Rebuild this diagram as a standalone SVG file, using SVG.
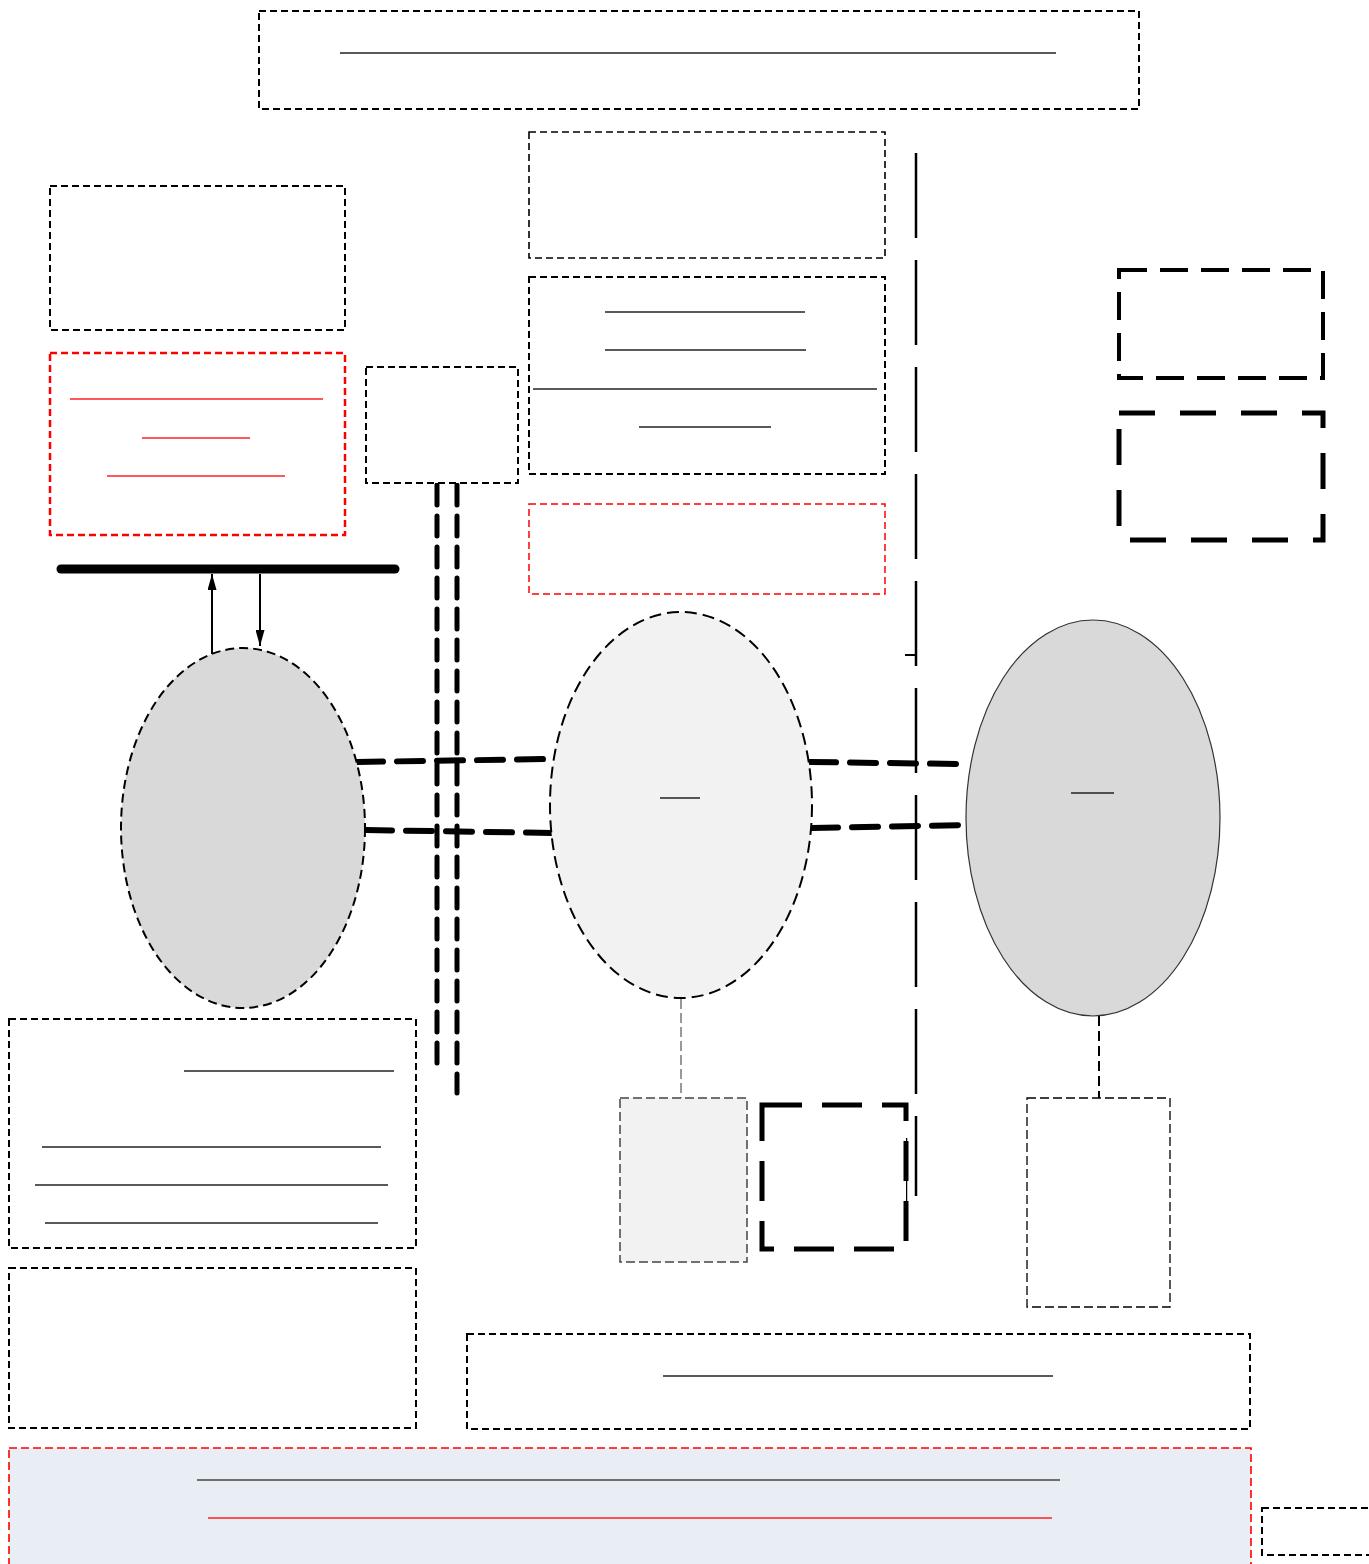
<svg xmlns="http://www.w3.org/2000/svg" width="1369" height="1564" viewBox="0 0 1369 1564">
<defs>
<style>
.bx{fill:#fff;stroke:#000;stroke-width:2;stroke-dasharray:7 4}
.bxr{fill:#fff;stroke:#ff0000;stroke-width:2;stroke-dasharray:7 4}
.ul{stroke:#222;stroke-width:1.4}
.ulr{stroke:#ff2020;stroke-width:1.4}
.thk{fill:none;stroke:#000;stroke-width:6;stroke-dasharray:26 14;stroke-linecap:round}
</style>
<marker id="ah" viewBox="0 0 10 10" refX="10" refY="5" markerWidth="16" markerHeight="9" orient="auto" markerUnits="userSpaceOnUse" preserveAspectRatio="none">
<path d="M0,0 L10,5 L0,10 Z" fill="#000"/>
</marker>
</defs>
<rect width="1369" height="1564" fill="#fff"/>

<g id="connectors">
<line x1="437" y1="485" x2="437" y2="1066" stroke="#000" stroke-width="5" stroke-dasharray="20 11" stroke-linecap="round"/>
<line x1="457" y1="485" x2="457" y2="1093" stroke="#000" stroke-width="5" stroke-dasharray="20 11" stroke-linecap="round"/>
<path class="thk" d="M357,762 L549,759"/>
<path class="thk" d="M366,830 L553,833"/>
<path class="thk" d="M810,762 L960,764"/>
<path class="thk" d="M812,828 L965,825"/>
<line x1="916" y1="153" x2="916" y2="1196" stroke="#000" stroke-width="2.5" stroke-dasharray="85 22"/>
<line x1="905" y1="655" x2="916" y2="655" stroke="#000" stroke-width="2"/>
<line x1="906" y1="1138" x2="906" y2="1210" stroke="#000" stroke-width="2.5"/>
<line x1="61" y1="569" x2="395" y2="569" stroke="#000" stroke-width="9" stroke-linecap="round"/>
<line x1="212" y1="654" x2="212" y2="574" stroke="#000" stroke-width="2" marker-end="url(#ah)"/>
<line x1="260" y1="574" x2="260" y2="646" stroke="#000" stroke-width="2" marker-end="url(#ah)"/>
<line x1="681" y1="999" x2="681" y2="1098" stroke="#555" stroke-width="1.2" stroke-dasharray="10 4"/>
<line x1="1099" y1="1016" x2="1099" y2="1098" stroke="#000" stroke-width="2" stroke-dasharray="10 5"/>
</g>

<g id="n-top"><rect class="bx" x="259" y="11" width="880" height="98"/><line class="ul" x1="340" y1="53" x2="1056" y2="53"/></g>
<g id="n-a"><rect class="bx" x="529" y="132" width="356" height="126" style="stroke-width:1.6"/></g>
<g id="n-b"><rect class="bx" x="529" y="277" width="356" height="197"/>
<line class="ul" x1="605" y1="312" x2="805" y2="312"/><line class="ul" x1="605" y1="350" x2="806" y2="350"/>
<line class="ul" x1="533" y1="389" x2="877" y2="389"/><line class="ul" x1="639" y1="427" x2="771" y2="427"/></g>
<g id="n-c"><rect class="bxr" x="529" y="504" width="356" height="90" style="stroke-width:1.5"/></g>
<g id="n-d"><rect class="bx" x="50" y="186" width="295" height="144"/></g>
<g id="n-e"><rect class="bxr" x="50" y="353" width="295" height="182" style="stroke-width:2.5"/>
<line class="ulr" x1="70" y1="399" x2="323" y2="399"/><line class="ulr" x1="142" y1="438" x2="250" y2="438"/><line class="ulr" x1="107" y1="476" x2="285" y2="476"/></g>
<g id="n-f"><rect class="bx" x="366" y="367" width="152" height="116"/></g>
<g id="n-g"><rect x="1119" y="270" width="204" height="108" fill="#fff" stroke="#000" stroke-width="4" stroke-dasharray="28 13"/></g>
<g id="n-h"><rect x="1119" y="413" width="204" height="127" fill="#fff" stroke="#000" stroke-width="5" stroke-dasharray="36 25"/></g>
<g id="n-left-ellipse"><ellipse cx="243" cy="828" rx="122" ry="180" fill="#d9d9d9" stroke="#000" stroke-width="2" stroke-dasharray="9 5"/></g>
<g id="n-mid-ellipse"><ellipse cx="681" cy="805" rx="131" ry="193" fill="#f2f2f2" stroke="#000" stroke-width="2" stroke-dasharray="12 6"/><line class="ul" x1="660" y1="798" x2="700" y2="798"/></g>
<g id="n-right-ellipse"><ellipse cx="1093" cy="818" rx="127" ry="198" fill="#d9d9d9" stroke="#333" stroke-width="1.2"/><line class="ul" x1="1071" y1="793" x2="1114" y2="793"/></g>
<g id="n-i"><rect x="620" y="1098" width="127" height="164" fill="#f2f2f2" stroke="#444" stroke-width="1.5" stroke-dasharray="9 4"/></g>
<g id="n-j"><rect x="762" y="1105" width="144" height="144" fill="#fff" stroke="#000" stroke-width="5" stroke-dasharray="40 20"/></g>
<g id="n-k"><rect x="1027" y="1098" width="143" height="209" fill="#fff" stroke="#000" stroke-width="1.3" stroke-dasharray="9 4"/></g>
<g id="n-l"><rect class="bx" x="9" y="1019" width="407" height="229"/>
<line class="ul" x1="184" y1="1071" x2="394" y2="1071"/><line class="ul" x1="42" y1="1147" x2="381" y2="1147"/>
<line class="ul" x1="35" y1="1185" x2="388" y2="1185"/><line class="ul" x1="45" y1="1223" x2="378" y2="1223"/></g>
<g id="n-m"><rect class="bx" x="9" y="1268" width="407" height="160"/></g>
<g id="n-n"><rect class="bx" x="467" y="1334" width="783" height="95"/><line class="ul" x1="663" y1="1376" x2="1053" y2="1376"/></g>
<g id="n-o"><rect x="9" y="1448" width="1242" height="125" fill="#e9edf4" stroke="#ff0000" stroke-width="1.6" stroke-dasharray="8 4"/>
<line x1="197" y1="1480" x2="1060" y2="1480" stroke="#444" stroke-width="1.6"/><line x1="208" y1="1518" x2="1052" y2="1518" stroke="#ff2020" stroke-width="1.6"/></g>
<g id="n-p"><rect class="bx" x="1262" y="1508" width="120" height="47"/></g>
</svg>
